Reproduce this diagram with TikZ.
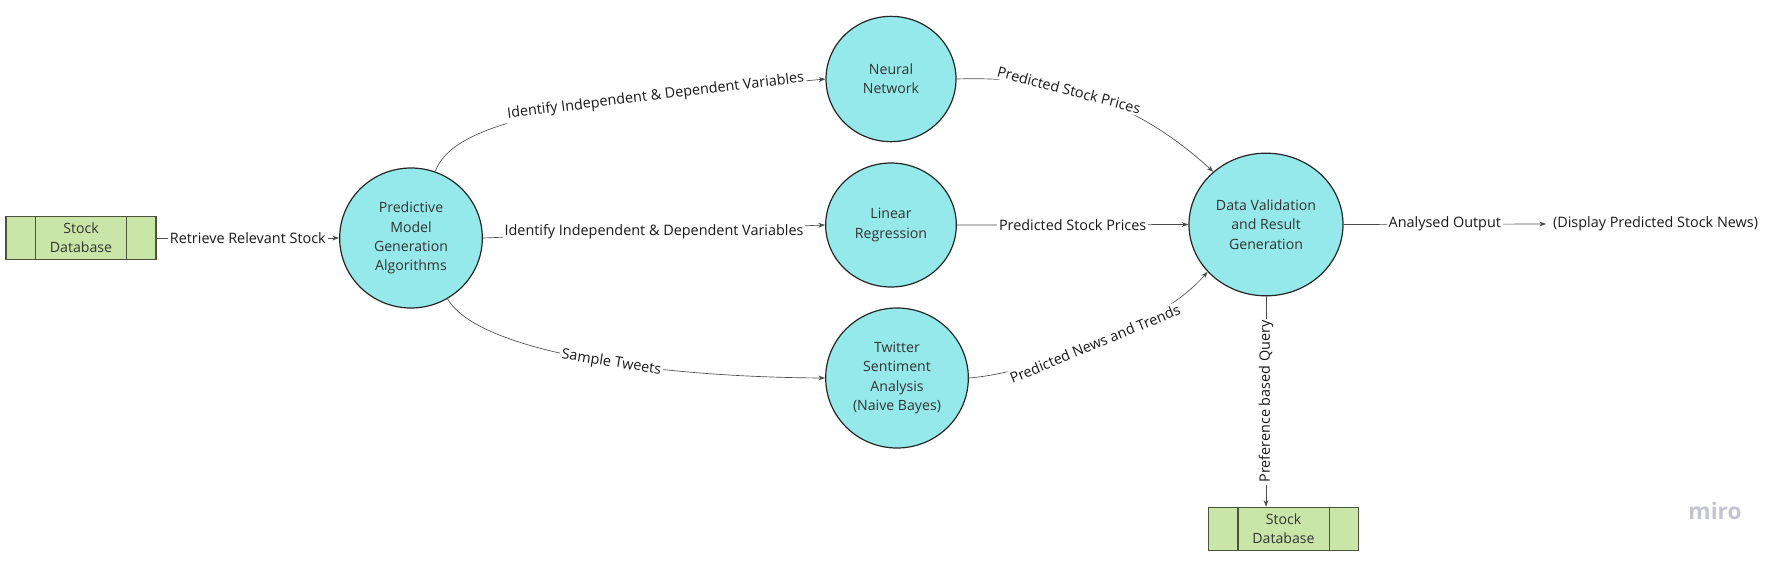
\documentclass[tikz,border=0pt]{standalone}
\usepackage{fontspec}
\setmainfont{Open Sans}
\usetikzlibrary{shapes.geometric, arrows.meta}
\definecolor{nodecyan}{RGB}{150,233,234}
\definecolor{dbgreen}{RGB}{201,230,168}
\definecolor{dbedge}{RGB}{72,84,62}
\definecolor{mirogray}{RGB}{196,196,208}

\begin{document}
\begin{tikzpicture}[x=75pt, y=75pt]
  \tikzset{
    proc_node/.style={ellipse, fill=nodecyan, draw=black!85, line width=0.9pt, inner sep=0pt, align=center, text=black!80, font=\fontsize{10.6pt}{14.5pt}\selectfont},
    db_node/.style={rectangle, fill=dbgreen, draw=dbedge, line width=0.9pt, minimum width=112.5pt, minimum height=32.5pt, inner sep=0pt, align=center, text=black!80, font=\fontsize{10.6pt}{14pt}\selectfont},
    flow/.style={draw=black!70, line width=0.5pt, -{Stealth[length=5pt,width=3.6pt]}},
    flow_label/.style={fill=white, inner sep=1.5pt, text=black!90, font=\fontsize{10.8pt}{12pt}\selectfont}
  }

  \useasboundingbox (0,0) rectangle (17.82,-5.61);

  % Almacenes de datos
  \node[db_node] (db_in) at (0.81,-2.38) {Stock\\Database};
  \node[db_node] (db_out) at (12.835,-5.29) {Stock\\Database};
  \foreach \db in {db_in, db_out} {
    \draw[dbedge, line width=0.9pt] ([xshift=22.5pt]\db.north west) -- ([xshift=22.5pt]\db.south west);
    \draw[dbedge, line width=0.9pt] ([xshift=-22.5pt]\db.north east) -- ([xshift=-22.5pt]\db.south east);
  }

  % Procesos
  \node[proc_node, minimum width=107pt, minimum height=105pt] (pred) at (4.11,-2.38) {Predictive\\Model\\Generation\\Algorithms};
  \node[proc_node, minimum width=97.5pt, minimum height=94pt] (nn) at (8.91,-0.79) {Neural\\Network};
  \node[proc_node, minimum width=98pt, minimum height=93pt] (lin) at (8.91,-2.25) {Linear\\Regression};
  \node[proc_node, minimum width=107pt, minimum height=105pt] (tw) at (8.97,-3.78) {Twitter\\Sentiment\\Analysis\\(Naive Bayes)};
  \node[proc_node, minimum width=115.5pt, minimum height=107pt] (dv) at (12.66,-2.245) {Data Validation\\and Result\\Generation};

  % Salida
  \node[font=\fontsize{10.8pt}{12pt}\selectfont, text=black!90, inner sep=5pt] (result) at (16.555,-2.24) {(Display Predicted Stock News)};
  \node[font=\bfseries\fontsize{17pt}{17pt}\selectfont, text=mirogray] (miro) at (17.15,-5.11) {miro};

  % Flujos
  \draw[flow] (db_in) -- (pred) node[midway, flow_label] {Retrieve Relevant Stock};
  \draw[flow] (pred.70) .. controls +(0.2,0.56) and +(-2.26,-0.21) .. (nn.west)
    node[pos=0.72, sloped, flow_label] {Identify Independent \& Dependent Variables};
  \draw[flow] (pred.east) -- (lin.west) node[midway, flow_label] {Identify Independent \& Dependent Variables};
  \draw[flow] (pred.-59) .. controls +(0.30,-0.52) and +(-1.76,0.01) .. (tw.west)
    node[pos=0.57, sloped, flow_label] {Sample Tweets};
  \draw[flow] (nn.east) .. controls +(0.94,0.03) and +(-0.82,0.75) .. (dv.135)
    node[pos=0.42, sloped, flow_label] {Predicted Stock Prices};
  \draw[flow] (lin.east) -- (dv.west) node[midway, flow_label] {Predicted Stock Prices};
  \draw[flow] (tw.east) .. controls +(0.55,0.04) and +(-0.52,-0.60) .. (dv.219)
    node[pos=0.52, sloped, flow_label] {Predicted News and Trends};
  \draw[flow] (dv.east) -- (result.west) node[midway, flow_label] {Analysed Output};
  \draw[flow] (dv.south) -- (dv.south |- db_out.north) node[midway, flow_label, rotate=90] {Preference based Query};
\end{tikzpicture}
\end{document}
